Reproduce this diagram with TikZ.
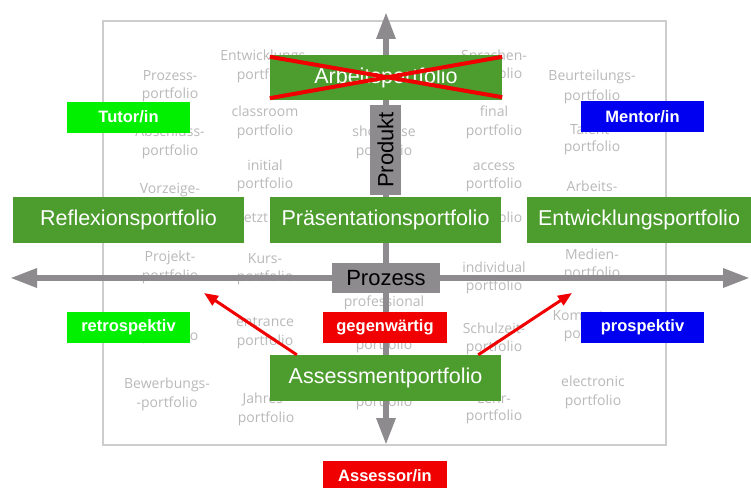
\documentclass[tikz,border=0pt]{standalone}
\usepackage{fontspec}
\setmainfont{Liberation Sans}
\newfontfamily\bgfont{Open Sans}
\usetikzlibrary{arrows.meta,calc}
\definecolor{boxgreen}{RGB}{76,156,46}
\definecolor{lblgreen}{RGB}{0,240,0}
\definecolor{lblblue}{RGB}{0,0,240}
\definecolor{lblred}{RGB}{240,0,0}
\definecolor{axisgray}{RGB}{142,139,142}
\definecolor{bgtext}{RGB}{185,185,185}
\definecolor{bgframe}{RGB}{205,205,205}
\begin{document}
\begin{tikzpicture}[x=1pt,y=-1pt,
  bgword/.style={text=bgtext, font=\bgfont\fontsize{14}{18}\selectfont, inner sep=0pt, text height=10.5pt, text depth=3pt},
  mainbox/.style={fill=boxgreen, text=white, font=\fontsize{21.5}{24}\selectfont, inner sep=0pt, minimum height=46pt},
  lblbox/.style={text=white, font=\bfseries\fontsize{16.5}{19}\selectfont, inner sep=0pt, minimum width=123pt, minimum height=31pt},
  graybox/.style={fill=axisgray, text=black, font=\fontsize{22}{24}\selectfont, inner sep=0pt},
  axis/.style={draw=axisgray, line width=6pt, {Triangle[width=18pt,length=27pt]}-{Triangle[width=18pt,length=27pt]}},
  redarrow/.style={draw=lblred, line width=3pt, -{Triangle[width=11pt,length=14pt]}},
  cross/.style={draw=lblred, line width=4pt}]
\useasboundingbox (0,0) rectangle (751,487);
\fill[white] (0,0) rectangle (751,487);
% background frame
\draw[bgframe, line width=1.5pt] (103,21) rectangle (666,445);
% background words
\foreach \x/\y/\t [count=\i] in {
  170/77/Prozess-, 170/95/portfolio, 170/133/Abschluss-, 170/152/portfolio, 170/190/Vorzeige-,
  170/258/Projekt-, 170/277/portfolio, 170/337/portfolio, 167/385/Bewerbungs-, 167/404/-portfolio,
  265/57/Entwicklungs-, 265/76/portfolio, 265/113/classroom, 265/132/portfolio, 265/167/initial,
  265/185/portfolio, 256/219/etzt, 265/260/Kurs-, 265/278/portfolio, 265/323/entrance,
  265/342/portfolio, 265/400/Jahres-, 266/419/portfolio,
  384/133/showcase, 384/152/portfolio, 384/303/professional, 384/346/portfolio, 384/403/portfolio,
  494/57/Sprachen-, 494/75/portfolio, 494/113/final, 494/132/portfolio, 494/167/access,
  494/185/portfolio, 494/219/portfolio, 494/269/individual, 494/287/portfolio, 494/330/Schulzeit-,
  494/348/portfolio, 494/400/Lehr-, 494/417/portfolio,
  592/77/Beurteilungs-, 592/97/portfolio, 592/131/Talent-, 592/148/portfolio, 592/188/Arbeits-,
  592/256/Medien-, 592/274/portfolio, 592/317/Kompetenz-, 592/335/portfolio, 593/383/electronic,
  593/402/portfolio}
  \node[bgword] (bg\i) at (\x,\y) {\t};
% axes
\coordinate (left) at (10,278);
\coordinate (right) at (750,278);
\coordinate (top) at (386,12);
\coordinate (bottom) at (386,445);
\draw[axis] (left) -- (right);
\draw[axis] (top) -- (bottom);
% main boxes
\node[mainbox, minimum width=232pt, minimum height=45pt] (arb) at (386,77.5) {Arbeitsportfolio};
\node[mainbox, minimum width=231pt] (refl) at (128.5,220) {Reflexionsportfolio};
\node[mainbox, minimum width=231pt] (praes) at (385.5,220) {Präsentationsportfolio};
\node[mainbox, minimum width=224pt] (entw) at (639,220) {Entwicklungsportfolio};
\node[mainbox, minimum width=231pt] (assess) at (385.5,378) {Assessmentportfolio};
% gray axis labels
\node[graybox, minimum width=108pt, minimum height=30pt] (proz) at (386,278) {Prozess};
\node[graybox, minimum width=90pt, minimum height=31pt, rotate=90] (prod) at (385.5,150) {Produkt};
% role labels
\node[lblbox, fill=lblgreen] (tutor) at (128.5,117) {Tutor/in};
\node[lblbox, fill=lblblue] (mentor) at (642.5,116.5) {Mentor/in};
\node[lblbox, fill=lblgreen] (retro) at (128.5,327.5) {retrospektiv};
\node[lblbox, fill=lblblue] (prosp) at (642.5,327.5) {prospektiv};
\node[lblbox, fill=lblred, minimum width=124pt] (gegen) at (385,327.5) {gegenwärtig};
\node[lblbox, fill=lblred, minimum width=124pt, minimum height=30pt] (assr) at (385,476) {Assessor/in};
% red cross
\draw[cross] ($(arb.north west)+(0,2)$) -- ($(arb.south east)+(0,-3)$);
\draw[cross] ($(arb.south west)+(0,-2)$) -- ($(arb.north east)+(0,2)$);
% red arrows
\coordinate (ltip) at (204,293);
\coordinate (rtip) at (572,293);
\draw[redarrow] ($(assess.north west)+(27,0)$) -- (ltip);
\draw[redarrow] ($(assess.north east)+(-23,0)$) -- (rtip);
\end{tikzpicture}
\end{document}
